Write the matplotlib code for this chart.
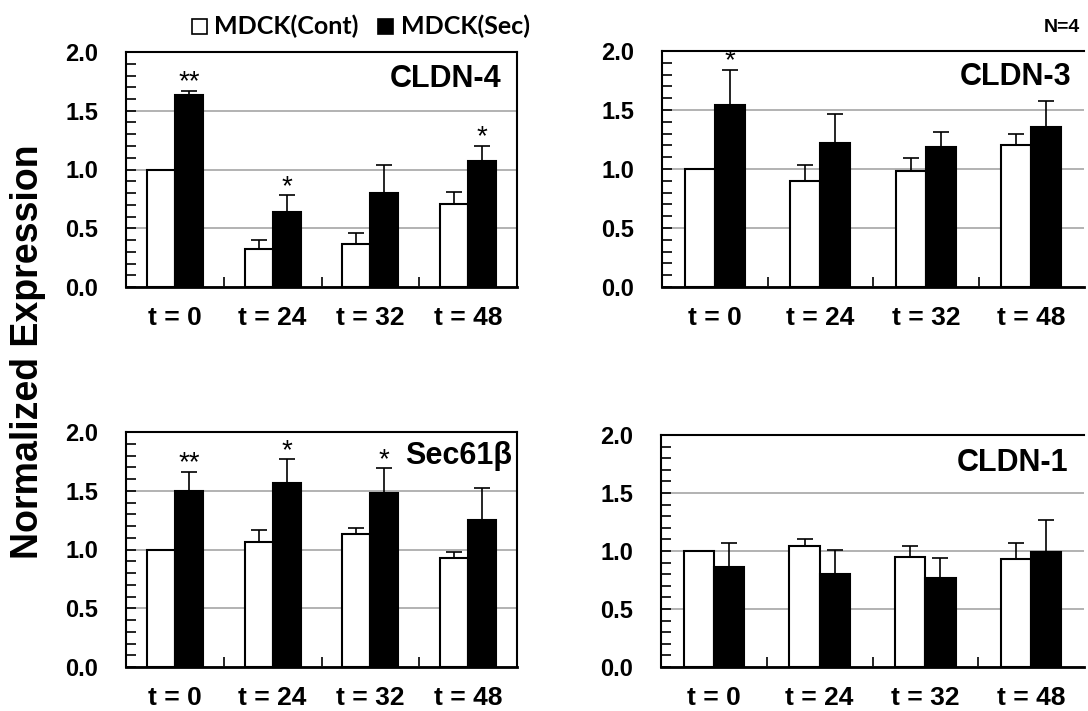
import numpy as np
import matplotlib
matplotlib.use("Agg")
import matplotlib.pyplot as plt
from matplotlib.patches import Rectangle

plt.rcParams['font.family'] = ['Liberation Sans', 'DejaVu Sans']

# time points and panel names
times = ["t = 0", "t = 24", "t = 32", "t = 48"]
panels = ["CLDN-4", "CLDN-3", "Sec61β", "CLDN-1"]

# normalized expression (mean) and error (SD, upper only)
cont_cldn4 = [1.00, 0.32, 0.37, 0.71]
cont_cldn4_err = [0.00, 0.08, 0.09, 0.10]
sec_cldn4 = [1.63, 0.64, 0.80, 1.07]
sec_cldn4_err = [0.04, 0.14, 0.24, 0.13]
stars_cldn4 = ["**", "*", "", "*"]

cont_cldn3 = [1.00, 0.90, 0.98, 1.20]
cont_cldn3_err = [0.00, 0.13, 0.11, 0.10]
sec_cldn3 = [1.54, 1.22, 1.19, 1.36]
sec_cldn3_err = [0.30, 0.25, 0.12, 0.22]
stars_cldn3 = ["*", "", "", ""]

cont_sec61 = [1.00, 1.06, 1.13, 0.93]
cont_sec61_err = [0.00, 0.11, 0.05, 0.05]
sec_sec61 = [1.50, 1.57, 1.48, 1.25]
sec_sec61_err = [0.16, 0.20, 0.21, 0.27]
stars_sec61 = ["**", "*", "*", ""]

cont_cldn1 = [1.00, 1.04, 0.95, 0.93]
cont_cldn1_err = [0.00, 0.06, 0.09, 0.14]
sec_cldn1 = [0.86, 0.80, 0.77, 0.99]
sec_cldn1_err = [0.21, 0.21, 0.17, 0.28]
stars_cldn1 = ["", "", "", ""]

data = [
    (cont_cldn4, cont_cldn4_err, sec_cldn4, sec_cldn4_err, stars_cldn4),
    (cont_cldn3, cont_cldn3_err, sec_cldn3, sec_cldn3_err, stars_cldn3),
    (cont_sec61, cont_sec61_err, sec_sec61, sec_sec61_err, stars_sec61),
    (cont_cldn1, cont_cldn1_err, sec_cldn1, sec_cldn1_err, stars_cldn1),
]

W, H = 1088, 711
fig = plt.figure(figsize=(W / 100, H / 100), dpi=100)

# axes boxes in pixels: left, right, top, bottom
boxes = [
    (126, 517, 52, 287),
    (662, 1084, 51, 287),
    (126, 517, 432, 667),
    (661, 1084, 435, 667),
]
# panel label anchor (right edge, vertical centre) in axes fraction
label_pos = [(0.960, 0.885), (0.971, 0.89), (0.987, 0.90), (0.964, 0.88)]

bw = 0.286
x = np.arange(len(times)) + 0.5
ekw = dict(elinewidth=1.2, capthick=1.2, ecolor="black")

for (l, r, t, b), name, (c, ce, s, se, st), (lx, ly) in zip(boxes, panels, data, label_pos):
    ax = fig.add_axes([l / W, 1 - b / H, (r - l) / W, (b - t) / H])
    ax.set_xlim(0, 4)
    ax.set_ylim(0, 2.0)
    ax.set_axisbelow(True)
    ax.yaxis.grid(True, color="#a6a6a6", linewidth=1.2)

    ax.bar(x - bw / 2, c, bw, color="white", edgecolor="black", linewidth=1.5,
           yerr=[np.zeros(4), ce], capsize=6, error_kw=ekw)
    ax.bar(x + bw / 2, s, bw, color="black", edgecolor="black", linewidth=1.5,
           yerr=[np.zeros(4), se], capsize=6, error_kw=ekw)

    for xi, yi, ei, lab in zip(x, s, se, st):
        if lab:
            ax.text(xi + bw / 2, yi + ei - 0.04, lab, ha="center", va="bottom",
                    fontsize=20)

    ax.text(lx, ly, name, transform=ax.transAxes, ha="right", va="center",
            fontsize=22, fontweight="bold")

    ax.set_xticks(x)
    ax.set_xticklabels(times, fontsize=19, fontweight="bold")
    ax.set_xticks([1, 2, 3], minor=True)
    ax.tick_params(axis="x", which="major", length=0, pad=14)
    ax.tick_params(axis="x", which="minor", direction="in", length=7, width=1.2)

    ax.set_yticks(np.arange(0, 2.01, 0.5))
    ax.set_yticks(np.arange(0, 2.01, 0.1), minor=True)
    ax.set_yticklabels(["0.0", "0.5", "1.0", "1.5", "2.0"], fontsize=17,
                       fontweight="bold")
    ax.tick_params(axis="y", which="both", direction="in", length=7, width=1.2,
                   pad=20)

    for sp in ax.spines.values():
        sp.set_linewidth(1.5)
    ax.spines["bottom"].set_linewidth(2)
    if l > 600:
        ax.spines["right"].set_visible(False)

fig.text(28 / W, 1 - 352 / H, "Normalized Expression", rotation=90,
         ha="center", va="center", fontsize=27, fontweight="bold")

# legend: squares + labels
fig.patches.append(Rectangle((192 / W, 1 - 34 / H), 15 / W, 15 / H,
                             transform=fig.transFigure, facecolor="white",
                             edgecolor="black", linewidth=1.2))
fig.patches.append(Rectangle((378 / W, 1 - 34 / H), 15 / W, 15 / H,
                             transform=fig.transFigure, facecolor="black",
                             edgecolor="black", linewidth=1.2))
fig.text(214 / W, 1 - 26 / H, "MDCK(Cont)", ha="left", va="center",
         fontsize=18, fontweight="bold", family="Lato")
fig.text(401 / W, 1 - 26 / H, "MDCK(Sec)", ha="left", va="center",
         fontsize=18, fontweight="bold", family="Lato")
fig.text(1080 / W, 1 - 27 / H, "N=4", ha="right", va="center", fontsize=14,
         fontweight="bold")

fig.savefig("out.png", dpi=100)
